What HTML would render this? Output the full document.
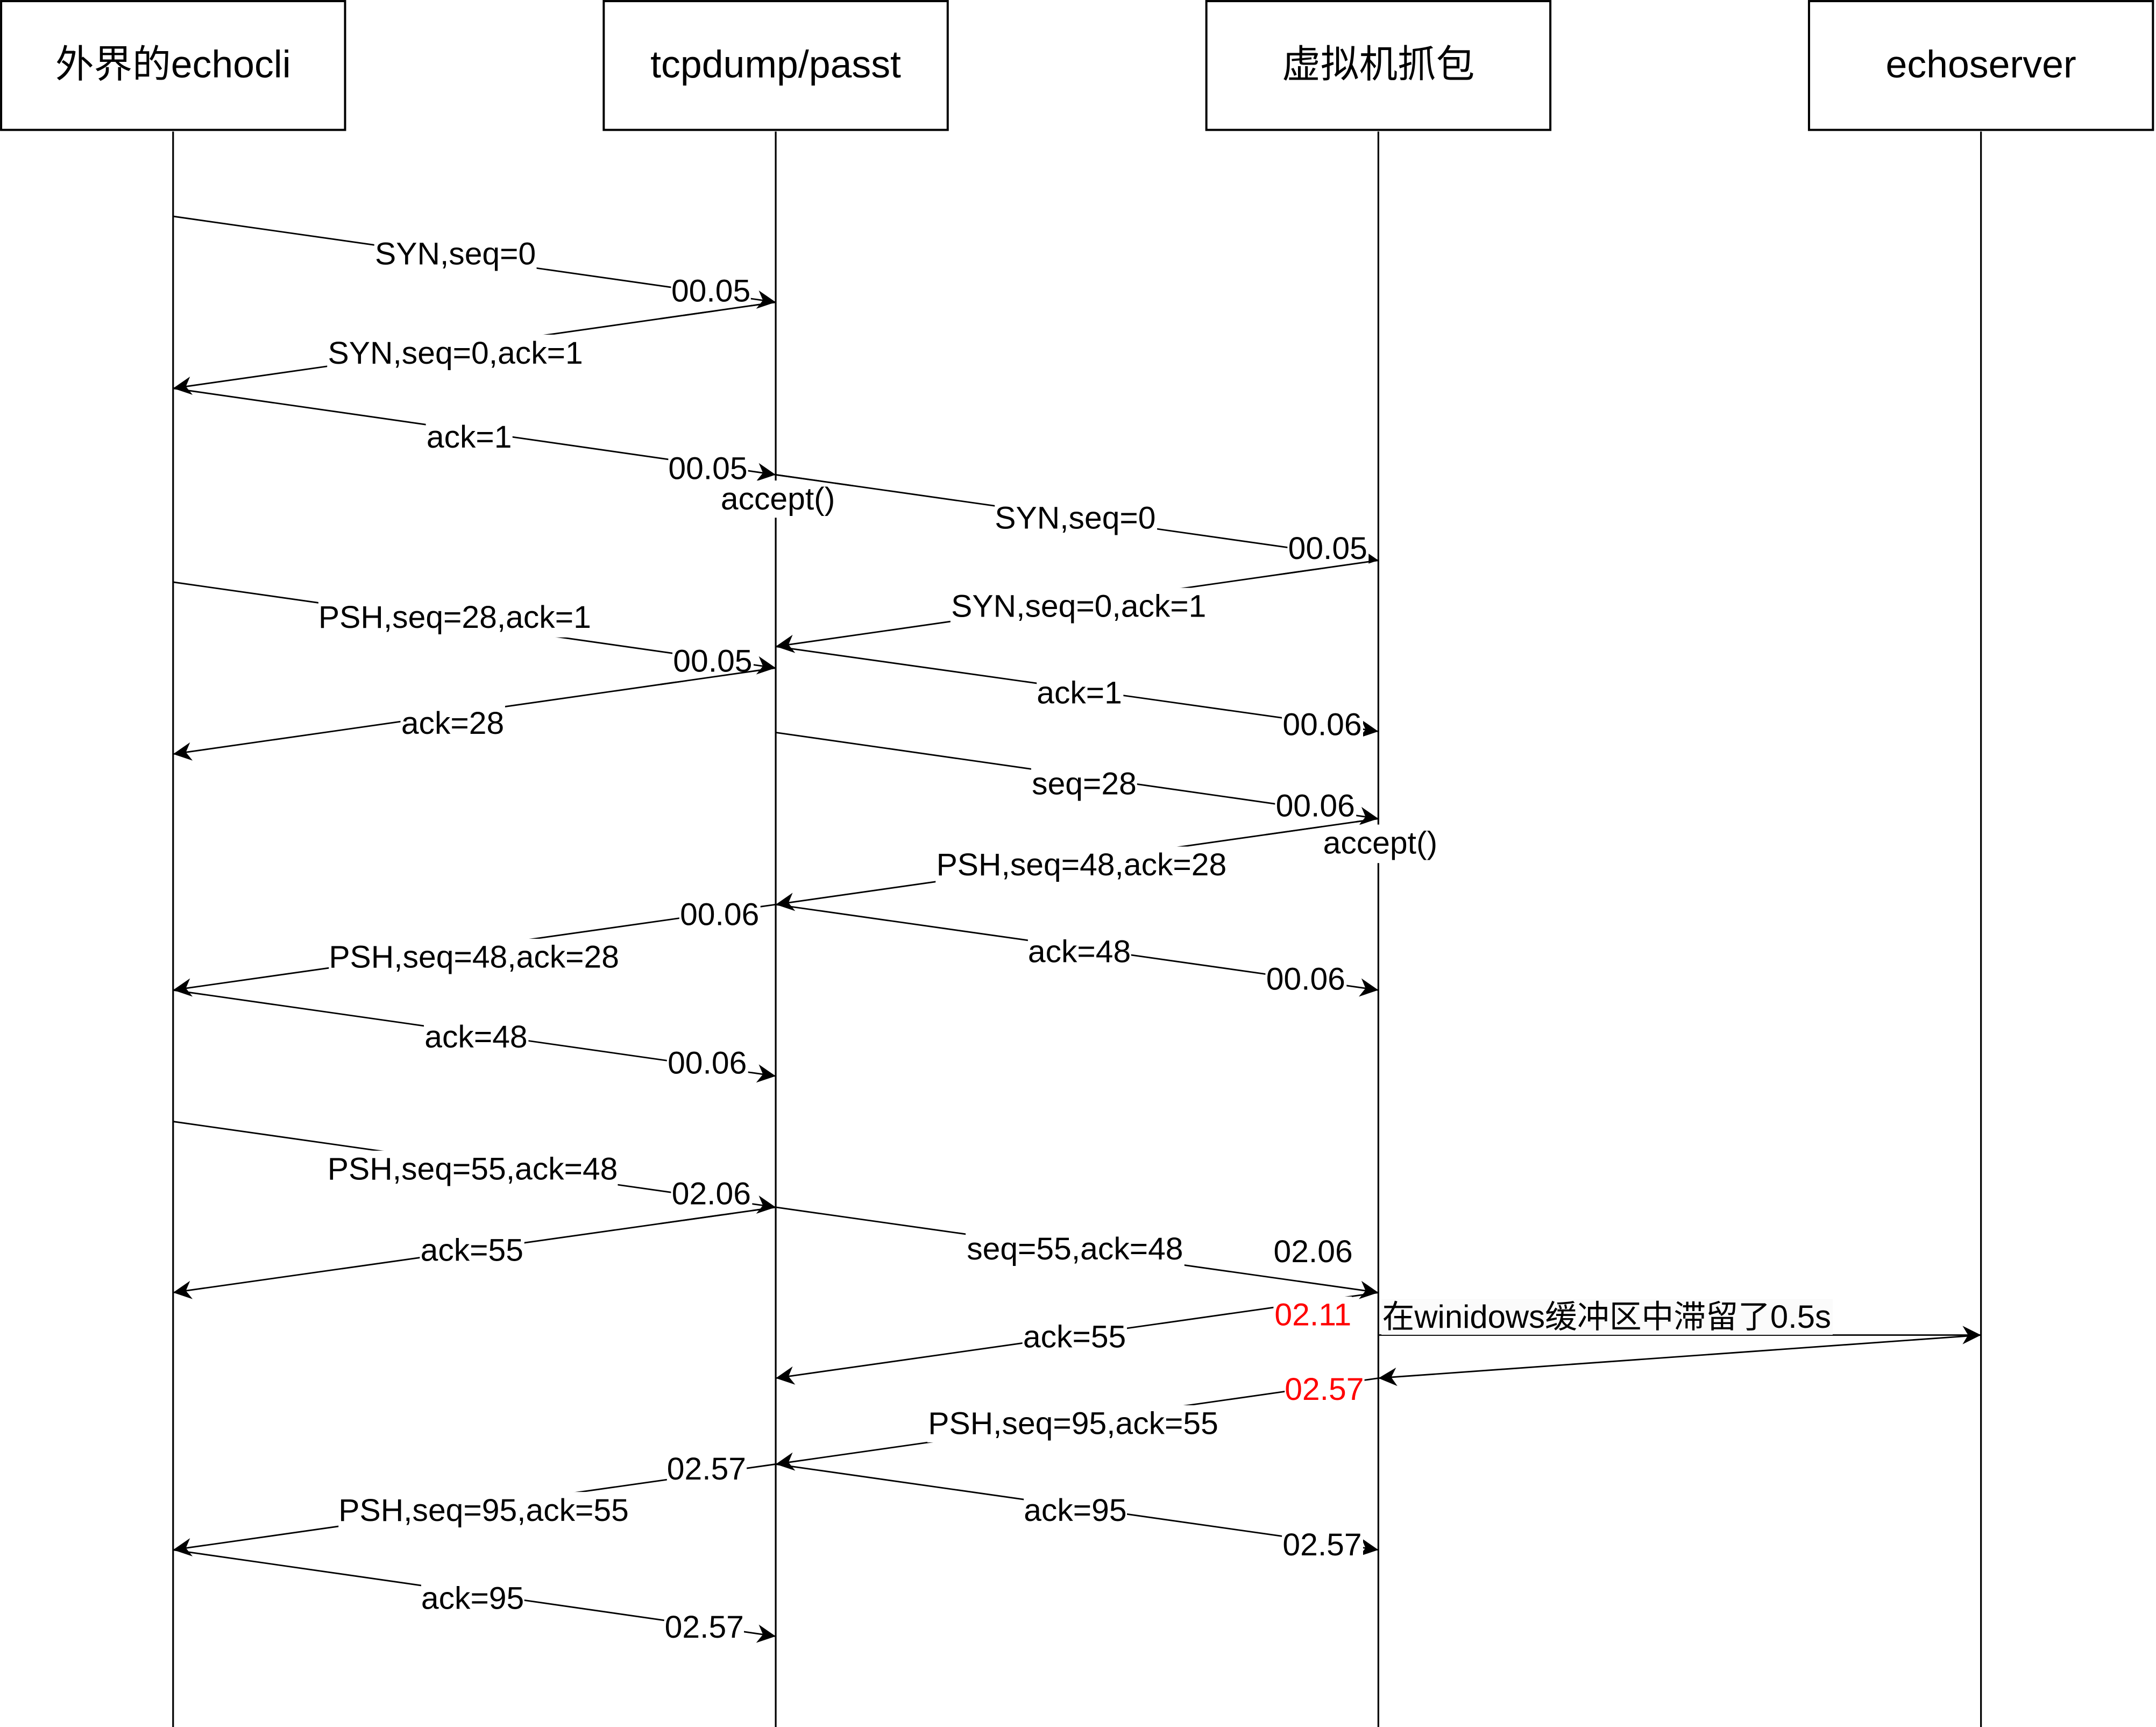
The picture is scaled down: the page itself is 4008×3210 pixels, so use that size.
<!DOCTYPE html>
<html>
<head>
<meta charset="utf-8">
<style>
html,body{margin:0;padding:0;background:#fff;}
body{width:4008px;height:3208px;overflow:hidden;position:relative;}
#s{position:absolute;left:0;top:0;width:1567px;height:1254.2px;transform:scale(2.55775);transform-origin:0 0;font-family:"Liberation Sans","Noto Sans CJK SC",Arial,sans-serif;color:#000;}
svg{position:absolute;left:0;top:0;}
.l{position:absolute;transform:translate(-50%,-50%);background:#fff;font-size:23px;line-height:27.6px;white-space:nowrap;padding:0 0.5px;}
.h{position:absolute;transform:translate(-50%,-50%);font-size:28px;line-height:33.6px;white-space:nowrap;}
.r{color:#ff0000;}
.n{position:absolute;left:1003.6px;top:943.5px;height:26.1px;line-height:26.1px;font-size:23.4px;background:#fbfbfb;white-space:nowrap;padding:0 1px;}
</style>
</head>
<body>
<div id="s">
<svg width="1567" height="1255" viewBox="0 0 1567 1255">
<defs>
<marker id="a" markerUnits="userSpaceOnUse" viewBox="-15 -8 16 16" markerWidth="16" markerHeight="16" refX="0" refY="0" orient="auto" overflow="visible">
<path d="M0,0 L-13.4,-6.7 L-9.4,0 L-13.4,6.7 Z" fill="#000"/>
</marker>
</defs>
<g fill="#fff" stroke="#000" stroke-width="1.56">
<rect x="0.8" y="0.8" width="250" height="93.6"/>
<rect x="438.8" y="0.8" width="250" height="93.6"/>
<rect x="876.8" y="0.8" width="250" height="93.6"/>
<rect x="1314.8" y="0.8" width="250" height="93.6"/>
</g>
<g stroke="#000" stroke-width="1.25">
<line x1="125.8" y1="95.6" x2="125.8" y2="1255"/>
<line x1="563.8" y1="95.6" x2="563.8" y2="1255"/>
<line x1="1001.8" y1="95.6" x2="1001.8" y2="1255"/>
<line x1="1439.8" y1="95.6" x2="1439.8" y2="1255"/>
</g>
<g stroke="#000" stroke-width="1.1" fill="none" marker-end="url(#a)">
<line x1="125.8" y1="157.2" x2="563.8" y2="219.6"/>
<line x1="563.8" y1="219.6" x2="125.8" y2="282.2"/>
<line x1="125.8" y1="282.2" x2="563.8" y2="345"/>
<line x1="563.8" y1="345" x2="1001.8" y2="407.2"/>
<line x1="1001.8" y1="407.2" x2="563.8" y2="469.8"/>
<line x1="125.8" y1="423" x2="563.8" y2="485.4"/>
<line x1="563.8" y1="469.8" x2="1001.8" y2="531.5"/>
<line x1="563.8" y1="485.4" x2="125.8" y2="548"/>
<line x1="563.8" y1="532.3" x2="1001.8" y2="594.9"/>
<line x1="1001.8" y1="594.9" x2="563.8" y2="657.3"/>
<line x1="563.8" y1="657.3" x2="125.8" y2="719.5"/>
<line x1="563.8" y1="657.3" x2="1001.8" y2="719.5"/>
<line x1="125.8" y1="719.5" x2="563.8" y2="782"/>
<line x1="125.8" y1="815" x2="563.8" y2="877.3"/>
<line x1="563.8" y1="877.3" x2="125.8" y2="939.3"/>
<line x1="563.8" y1="877.3" x2="1001.8" y2="939.3"/>
<line x1="1001.8" y1="970.2" x2="1439.8" y2="970.2"/>
<line x1="1439.8" y1="970.2" x2="1001.8" y2="1001.5"/>
<line x1="1001.8" y1="939.3" x2="563.8" y2="1001.5"/>
<line x1="1001.8" y1="1001.5" x2="563.8" y2="1064"/>
<line x1="563.8" y1="1064" x2="125.8" y2="1126.3"/>
<line x1="563.8" y1="1064" x2="1001.8" y2="1126.3"/>
<line x1="125.8" y1="1126.3" x2="563.8" y2="1189.1"/>
</g>
</svg>

<div class="h" style="left:125.8px;top:46.5px;">外界的echocli</div>
<div class="h" style="left:563.8px;top:46.5px;">tcpdump/passt</div>
<div class="h" style="left:1001.8px;top:46.5px;">虚拟机抓包</div>
<div class="h" style="left:1439.8px;top:46.5px;">echoserver</div>

<div class="l" style="left:331px;top:185px;">SYN,seq=0</div>
<div class="l" style="left:516.7px;top:212.1px;">00.05</div>
<div class="l" style="left:331px;top:257px;">SYN,seq=0,ack=1</div>
<div class="l" style="left:341px;top:318px;">ack=1</div>
<div class="l" style="left:514.5px;top:340.5px;">00.05</div>
<div class="l" style="left:565.4px;top:362.7px;">accept()</div>
<div class="l" style="left:781.5px;top:377px;">SYN,seq=0</div>
<div class="l" style="left:965px;top:399px;">00.05</div>
<div class="l" style="left:784px;top:441px;">SYN,seq=0,ack=1</div>
<div class="l" style="left:330.5px;top:449px;">PSH,seq=28,ack=1</div>
<div class="l" style="left:518px;top:481px;">00.05</div>
<div class="l" style="left:784.5px;top:504px;">ack=1</div>
<div class="l" style="left:961px;top:527px;">00.06</div>
<div class="l" style="left:329px;top:526px;">ack=28</div>
<div class="l" style="left:788px;top:570px;">seq=28</div>
<div class="l" style="left:956px;top:586.1px;">00.06</div>
<div class="l" style="left:1003.2px;top:613px;">accept()</div>
<div class="l" style="left:786px;top:629px;">PSH,seq=48,ack=28</div>
<div class="l" style="left:523px;top:665px;">00.06</div>
<div class="l" style="left:344.5px;top:696px;">PSH,seq=48,ack=28</div>
<div class="l" style="left:784.5px;top:692px;">ack=48</div>
<div class="l" style="left:949px;top:712px;">00.06</div>
<div class="l" style="left:346px;top:754px;">ack=48</div>
<div class="l" style="left:514px;top:773px;">00.06</div>
<div class="l" style="left:343.5px;top:850px;">PSH,seq=55,ack=48</div>
<div class="l" style="left:517px;top:868px;">02.06</div>
<div class="l" style="left:343px;top:909px;">ack=55</div>
<div class="l" style="left:781.3px;top:908.3px;">seq=55,ack=48</div>
<div class="l" style="left:954.4px;top:909.6px;">02.06</div>
<div class="n">在winidows缓冲区中滞留了0.5s</div>
<div class="l r" style="left:954.3px;top:956.4px;">02.11</div>
<div class="l" style="left:781px;top:972.2px;">ack=55</div>
<div class="l r" style="left:962.5px;top:1009.6px;">02.57</div>
<div class="l" style="left:780px;top:1034.7px;">PSH,seq=95,ack=55</div>
<div class="l" style="left:513.5px;top:1067.6px;">02.57</div>
<div class="l" style="left:351.5px;top:1098px;">PSH,seq=95,ack=55</div>
<div class="l" style="left:781.5px;top:1098px;">ack=95</div>
<div class="l" style="left:961px;top:1123px;">02.57</div>
<div class="l" style="left:343.5px;top:1162px;">ack=95</div>
<div class="l" style="left:511.9px;top:1183.2px;">02.57</div>

<svg width="1567" height="1255" viewBox="0 0 1567 1255">
<g stroke="#000" stroke-width="1.1" fill="none">
<line x1="563.8" y1="219.6" x2="480" y2="231.58"/>
<line x1="563.8" y1="345" x2="620" y2="352.98"/>
<line x1="1001.8" y1="407.2" x2="930" y2="417.46"/>
<line x1="563.8" y1="485.4" x2="480" y2="497.38"/>
<line x1="1001.8" y1="594.9" x2="920" y2="606.55"/>
<line x1="563.8" y1="877.3" x2="480" y2="889.16"/>
</g>
</svg>
</div>
</body>
</html>
